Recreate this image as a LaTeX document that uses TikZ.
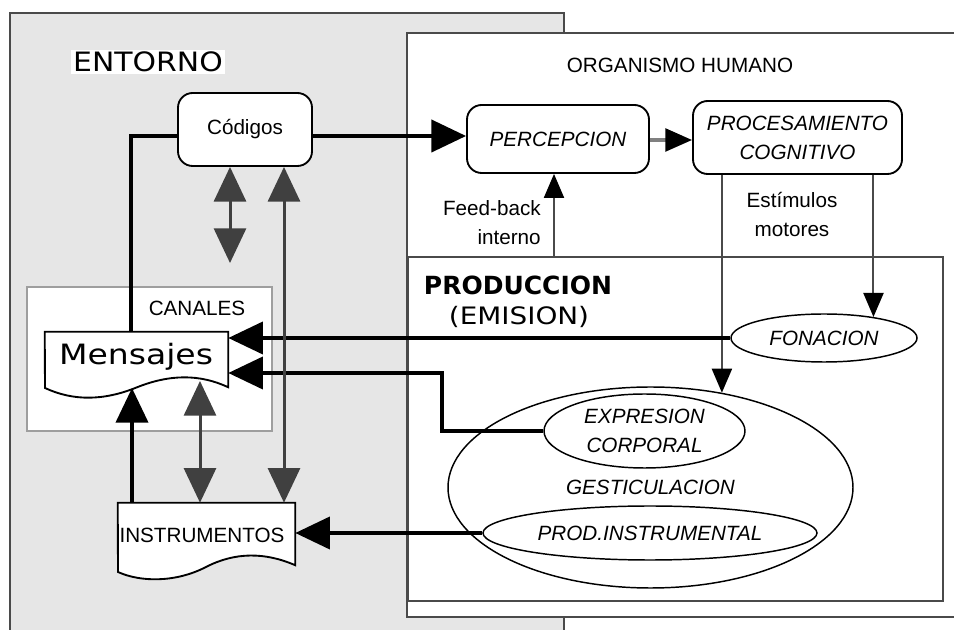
\documentclass[tikz,border=0pt]{standalone}
\usepackage{fontspec}
\usepackage{graphicx}
\setmainfont{Liberation Sans}
\newfontfamily\heavysans{DejaVu Sans}
\usetikzlibrary{arrows.meta,shapes.geometric}

\definecolor{envgray}{HTML}{E6E6E6}
\definecolor{edge}{HTML}{4A4A4A}
\definecolor{darrow}{HTML}{404040}
\definecolor{chan}{HTML}{9E9E9E}

\tikzset{
  txt/.style={font=\fontsize{15.5}{21.75}\selectfont, align=center, inner sep=0pt},
  itxt/.style={font=\fontsize{15.5}{21.75}\selectfont\itshape, align=center, inner sep=0pt},
  roundbox/.style={draw=black, line width=1.4pt, rounded corners=11pt, fill=white, inner sep=0pt},
  oval/.style={ellipse, draw=black, line width=1.1pt, inner sep=0pt},
  frame/.style={draw=edge, line width=1.5pt},
  docline/.style={draw=black, line width=1.4pt, fill=white},
  flow/.style={line width=3pt, black, -{Triangle[length=26pt,width=24pt]}},
  link/.style={line width=3pt, black},
  twoway/.style={line width=2.25pt, darrow, {Triangle[length=26pt,width=24pt]}-{Triangle[length=26pt,width=24pt]}},
  thinflow/.style={line width=1.5pt, edge, -{Triangle[length=18pt,width=15pt,color=black]}},
}

\begin{document}
\begin{tikzpicture}[x=0.75pt,y=-0.75pt]
\useasboundingbox (0,0) rectangle (954,630);

% environment panel
\draw[frame, fill=envgray] (10,13) rectangle (564,660);
\node[fill=white, inner sep=1.5pt, font=\heavysans\fontsize{20}{24}\selectfont] (entorno) at (148,62) {\scalebox{1.12}[1]{ENTORNO}};

% channels panel
\draw[draw=chan, line width=1.5pt, fill=white] (27,287) rectangle (272,431);
\node[txt] (canales) at (197,308) {CANALES};

% human organism panel
\draw[frame, fill=white] (407,33) rectangle (990,617);
\node[txt] (organismo) at (680,65) {ORGANISMO HUMANO};

% production panel
\node[frame, minimum width=401.25pt, minimum height=258pt, inner sep=0pt] (prod) at (675.5,429) {};
\node[font=\heavysans\bfseries\fontsize{18.75}{22}\selectfont, inner sep=0pt] (prodtxt) at (518,285) {PRODUCCION};
\node[font=\heavysans\fontsize{18}{21}\selectfont, inner sep=0pt] (emision) at (519,317) {\scalebox{1.16}[1]{(EMISION)}};

% boxes
\node[roundbox, txt, minimum width=100.5pt, minimum height=54.75pt] (cod) at (245,129.5) {Códigos};
\node[roundbox, itxt, minimum width=136.5pt, minimum height=51pt] (perc) at (558,139) {PERCEPCION};
\node[roundbox, itxt, minimum width=156.75pt, minimum height=54.75pt] (proc) at (797.5,137.5) {PROCESAMIENTO\\COGNITIVO};

% documents
\node[minimum width=137.25pt, minimum height=41.25pt, inner sep=0pt] (mens) at (136.5,359.5) {};
\draw[docline] (mens.north west) -- (mens.north east) -- (mens.south east)
  .. controls (200,374) and (170,374) .. (136.5,387.5)
  .. controls (103,401) and (73,401) .. (45,388) -- cycle;
\node[font=\heavysans\fontsize{21}{25}\selectfont, inner sep=0pt] (menstxt) at (136,357) {\scalebox{1.18}[1]{Mensajes}};

\node[minimum width=132.75pt, minimum height=46.5pt, inner sep=0pt] (instr) at (206.5,534) {};
\draw[docline] (instr.north west) -- (instr.north east) -- (instr.south east)
  .. controls (265,552) and (235,552) .. (206,567)
  .. controls (175,583) and (140,582) .. (118,572) -- cycle;
\node[txt] (instrtxt) at (202,535) {INSTRUMENTOS};

% ellipses
\node[oval, minimum width=139.5pt, minimum height=36pt, itxt] (fon) at (824,338) {FONACION};
\node[oval, minimum width=303.75pt, minimum height=150.75pt, itxt] (gest) at (650.5,487.5) {GESTICULACION};
\node[oval, minimum width=150.75pt, minimum height=55.5pt, itxt] (expr) at (644.5,431) {EXPRESION\\CORPORAL};
\node[oval, minimum width=250.5pt, minimum height=40.5pt, itxt] (prodi) at (650,533) {PROD.INSTRUMENTAL};

% labels
\node[txt, align=right, anchor=east] (fb) at (541,222.5) {Feed-back\\interno};
\node[txt] (est) at (792,214) {Estímulos\\motores};

% helper coordinates
\coordinate (cy) at (0,136);
\coordinate (py) at (0,140);
\coordinate (lx) at (131,0);
\coordinate (fbx) at (554,0);
\coordinate (kink) at (442,373);
\coordinate (up1) at (132,388);
\coordinate (up2) at (200,381);
\coordinate (dn1) at (230,263);
\coordinate (dn2) at (284,0);

% connectors
\draw[flow] (cod.east |- cy) -- (perc.west |- cy);
\draw[link] (cod.west |- cy) -| (mens.north -| lx);
\draw[line width=2.5pt, gray, -{Triangle[length=20pt,width=17pt,color=black]}] (perc.east |- py) -- (proc.west |- py);
\draw[thinflow] (prod.north -| fbx) -- (perc.south -| fbx);
\draw[thinflow] (proc.south -| gest.53) -- (gest.53);
\draw[thinflow] (proc.south -| fon.23) -- (fon.23);
\draw[flow] (fon.west) -- (fon.west -| mens.east);
\draw[flow] (expr.west) -| (kink) -- (kink -| mens.east);
\draw[flow] (prodi.west) -- (prodi.west -| instr.east);
\draw[flow] (up1 |- instr.north) -- (up1);
\draw[twoway] (up2) -- (up2 |- instr.north);
\draw[twoway] (cod.south -| dn1) -- (dn1);
\draw[twoway] (cod.south -| dn2) -- (instr.north -| dn2);
\end{tikzpicture}
\end{document}
